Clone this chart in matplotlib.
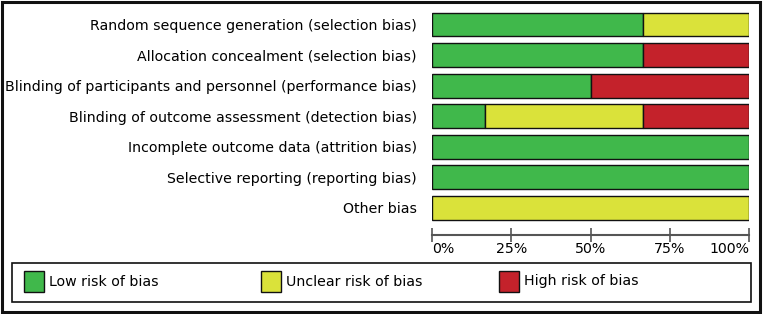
import matplotlib
matplotlib.use("Agg")
import matplotlib.pyplot as plt
from matplotlib.patches import Rectangle
import numpy as np

categories = [
    "Random sequence generation (selection bias)",
    "Allocation concealment (selection bias)",
    "Blinding of participants and personnel (performance bias)",
    "Blinding of outcome assessment (detection bias)",
    "Incomplete outcome data (attrition bias)",
    "Selective reporting (reporting bias)",
    "Other bias",
]
low = [66.7, 66.7, 50.0, 16.7, 100.0, 100.0, 0.0]
unclear = [33.3, 0.0, 0.0, 50.0, 0.0, 0.0, 100.0]
high = [0.0, 33.3, 50.0, 33.3, 0.0, 0.0, 0.0]
series_names = ["Low risk of bias", "Unclear risk of bias", "High risk of bias"]
colors = ["#40b84b", "#dae23a", "#c4222b"]
xticks = [0, 25, 50, 75, 100]
xtick_labels = ["0%", "25%", "50%", "75%", "100%"]

plt.rcParams['font.family'] = ['DejaVu Sans']
W, H = 764, 314
fig = plt.figure(figsize=(W/100, H/100), dpi=100)

def fx(px):
    return px / W
def fy(py):
    return 1 - py / H

ax_left, ax_right, ax_top, ax_bot = 432, 749, 9, 235
ax = fig.add_axes([fx(ax_left), fy(ax_bot), (ax_right-ax_left)/W, (ax_bot-ax_top)/H])

y = np.arange(len(categories))
vals = [np.array(low), np.array(unclear), np.array(high)]
left = np.zeros(len(categories))
for v, c, n in zip(vals, colors, series_names):
    mask = v > 0
    ax.barh(y[mask], v[mask], left=left[mask], height=0.78, color=c,
            edgecolor="#111111", linewidth=1.0, label=n)
    left = left + v

pitch = 30.57
ax.set_ylim((ax_bot - 24.5) / pitch, (ax_top - 24.5) / pitch)
ax.set_xlim(0, 100)
ax.set_yticks(y)
ax.set_yticklabels(categories, fontsize=10.2)
ax.tick_params(axis='y', length=0, pad=11)
ax.set_xticks(xticks)
ax.set_xticklabels(xtick_labels, fontsize=10.2)
ax.tick_params(axis='x', direction='inout', length=10, width=1.2, color="#555555", pad=0)
for s in ["top", "left", "right"]:
    ax.spines[s].set_visible(False)
ax.spines["bottom"].set_color("#555555")
ax.spines["bottom"].set_linewidth(1.5)
ax.set_facecolor("none")
ax.margins(0)
xl = ax.get_xticklabels()
xl[0].set_horizontalalignment('left')
xl[-1].set_horizontalalignment('right')

# legend box
lx0, lx1, ly0, ly1 = 12, 751, 263, 301.5
fig.patches.append(Rectangle((fx(lx0), fy(ly1)), (lx1-lx0)/W, (ly1-ly0)/H,
                             transform=fig.transFigure, fill=False,
                             edgecolor="#111111", linewidth=1.2))
patch_x = [24, 261, 499]
for px, c, n in zip(patch_x, colors, series_names):
    fig.patches.append(Rectangle((fx(px), fy(291.5)), 20/W, 20.5/H,
                                 transform=fig.transFigure, facecolor=c,
                                 edgecolor="#111111", linewidth=1.0))
    fig.text(fx(px + 25), fy(281.5), n, fontsize=10.2, va='center', ha='left')

# outer border
fig.patches.append(Rectangle((fx(1.5), fy(311.5)), (760-1.5)/W, (311.5-1.5)/H,
                             transform=fig.transFigure, fill=False,
                             edgecolor="#111111", linewidth=2.2))

fig.savefig("out.png", dpi=100)
